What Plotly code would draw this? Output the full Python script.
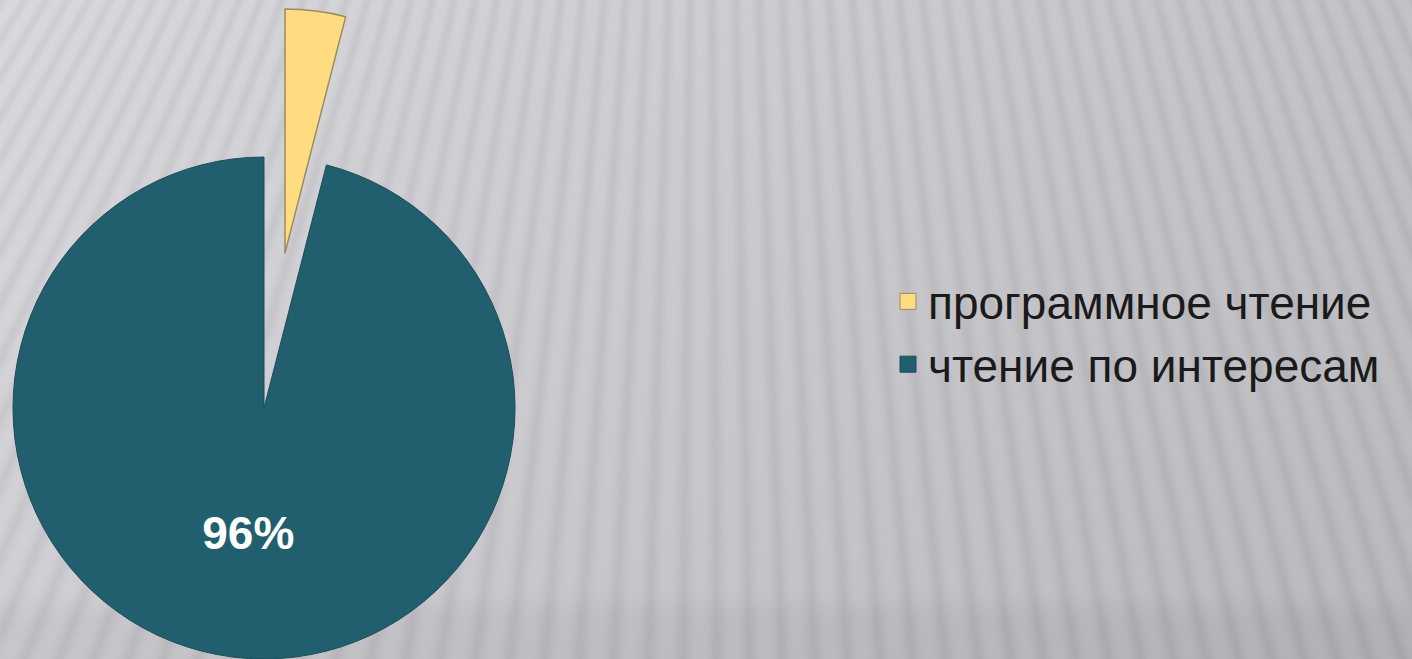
import base64
import struct
import zlib

import numpy as np
import plotly.graph_objects as go

# ---- data ----
labels = ["программное чтение", "чтение по интересам"]
values = [4, 96]
colors = ["#FFDC80", "#225F6E"]
outline = ["#9C8C62", "#1B4C58"]

W, H = 1412, 659


# ---- decorative background (gradient + soft vertical stripes) ----
def make_background(w, h):
    y, x = np.mgrid[0:h, 0:w].astype(float)

    def slope(m):
        return np.where(m < 700, 0.5 * (700 - m) / 700, -0.35 * (m - 700) / 700)

    m = x.copy()
    for _ in range(3):
        m = x - slope(m) * (330 - y)
    period = 28.0
    d = (m % period) - period / 2
    stripe = np.exp(-(d ** 2) / (2 * 4.5 ** 2))
    t = np.clip((y - 585) / 40, 0, 1)
    base = 218 - 22 * (x / w) - 10 * (y / h) - 8 * (t * t * (3 - 2 * t))
    val = base - 11 * stripe
    rgb = np.stack([val, val, val + 4], axis=-1)
    return np.clip(rgb, 0, 255).astype(np.uint8)


def png_data_uri(arr):
    h, w, _ = arr.shape
    raw = b"".join(b"\x00" + arr[i].tobytes() for i in range(h))

    def chunk(tag, data):
        c = struct.pack(">I", len(data)) + tag + data
        return c + struct.pack(">I", zlib.crc32(tag + data) & 0xFFFFFFFF)

    png = (b"\x89PNG\r\n\x1a\n"
           + chunk(b"IHDR", struct.pack(">IIBBBBB", w, h, 8, 2, 0, 0, 0))
           + chunk(b"IDAT", zlib.compress(raw, 9))
           + chunk(b"IEND", b""))
    return "data:image/png;base64," + base64.b64encode(png).decode()


bg_uri = png_data_uri(make_background(W, H))

clear = "rgba(0,0,0,0)"
font_family = "Liberation Sans, Arial, sans-serif"

fig = go.Figure()

# main (teal) pie — pulled slice left empty
fig.add_trace(go.Pie(
    labels=labels, values=values, sort=False, direction="clockwise", rotation=0,
    marker=dict(colors=[clear, colors[1]],
                line=dict(color=[clear, outline[1]], width=1)),
    texttemplate=[" ", "%{percent:.0%}"],
    textposition="inside", insidetextorientation="horizontal",
    textfont=dict(family=font_family, size=46, color="white", weight="bold"),
    domain=dict(x=[12 / W, 516 / W], y=[0, 1 - 157 / H]),
    showlegend=False, hoverinfo="label+percent",
))

# exploded (yellow) slice
fig.add_trace(go.Pie(
    labels=labels, values=values, sort=False, direction="clockwise", rotation=0,
    marker=dict(colors=[colors[0], clear],
                line=dict(color=[outline[0], clear], width=1.5)),
    textinfo="none",
    domain=dict(x=[41 / W, 529 / W], y=[1 - 497 / H, 1 - 9 / H]),
    showlegend=False, hoverinfo="label+percent",
))

# legend entries
for lab, col, oc in zip(labels, colors, outline):
    fig.add_trace(go.Scatter(
        x=[None], y=[None], mode="markers", name=lab,
        marker=dict(symbol="square", size=16, color=col, line=dict(color=oc, width=1)),
    ))

fig.update_layout(
    width=W, height=H, autosize=False,
    margin=dict(l=0, r=0, t=0, b=0),
    paper_bgcolor="#cfcfd3", plot_bgcolor=clear,
    xaxis=dict(visible=False), yaxis=dict(visible=False),
    images=[dict(source=bg_uri, xref="paper", yref="paper", x=0, y=1,
                 sizex=1, sizey=1, sizing="stretch", layer="below",
                 xanchor="left", yanchor="top")],
    legend=dict(x=888 / W, y=1 - 333 / H, xanchor="left", yanchor="middle",
                bgcolor=clear, font=dict(family=font_family, size=46, color="#1a1a1a"),
                itemsizing="trace", tracegroupgap=0),
)

fig.write_html("out.html", config={"displayModeBar": False},
               post_script="document.body.style.margin='0';")
